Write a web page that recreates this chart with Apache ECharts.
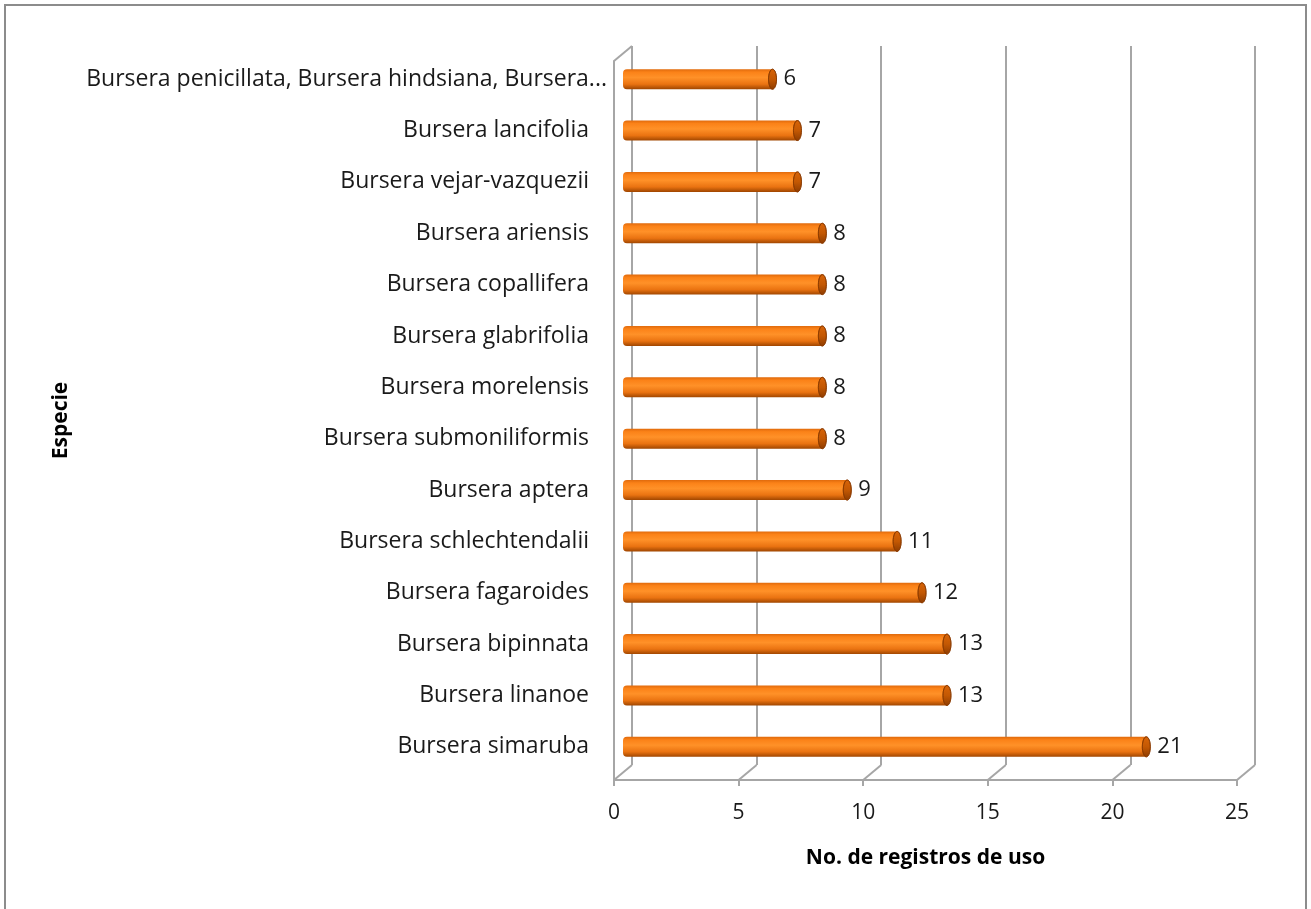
<!DOCTYPE html>
<html>
<head>
<meta charset="utf-8">
<script src="https://cdn.jsdelivr.net/npm/echarts@6/dist/echarts.min.js"></script>
<style>
  html, body { margin: 0; padding: 0; background: #fff; }
  #chart { width: 1311px; height: 909px; }
</style>
</head>
<body>
<div id="chart"></div>
<script>
// Species, listed top to bottom
var species = [
  'Bursera penicillata, Bursera hindsiana, Bursera...',
  'Bursera lancifolia',
  'Bursera vejar-vazquezii',
  'Bursera ariensis',
  'Bursera copallifera',
  'Bursera glabrifolia',
  'Bursera morelensis',
  'Bursera submoniliformis',
  'Bursera aptera',
  'Bursera schlechtendalii',
  'Bursera fagaroides',
  'Bursera bipinnata',
  'Bursera linanoe',
  'Bursera simaruba'
];
// Number of use records per species
var registros = [6, 7, 7, 8, 8, 8, 8, 8, 9, 11, 12, 13, 13, 21];
// Value axis ticks
var xTicks = [0, 5, 10, 15, 20, 25];

var W = 1311, H = 909;
// Front plane of the 3-D box and the depth offset to the back wall
var front = { left: 614, right: 1237, top: 61, bottom: 780 };
var depth = { dx: 18, dy: -15 };
var FONT = '"Open Sans", "Noto Sans", sans-serif';
var GRID_COLOR = '#a6a6a6';
var TEXT = '#1a1a1a';

function gridAt(f) {
  return {
    left: front.left + depth.dx * f,
    right: W - (front.right + depth.dx * f),
    top: front.top + depth.dy * f,
    bottom: H - (front.bottom + depth.dy * f),
    containLabel: false
  };
}

var chart = echarts.init(document.getElementById('chart'), null, { renderer: 'canvas' });

var xBase = { type: 'value', min: xTicks[0], max: xTicks[xTicks.length - 1], interval: 5 };

// Cylinder: shaded body plus an elliptical end cap, value written after it
function renderBar(params, api) {
  var v = api.value(0), idx = api.value(1);
  var p0 = api.coord([0, idx]);
  var p1 = api.coord([v, idx]);
  var h = 20, rx = 4;
  var y0 = p0[1] - h / 2;
  var body = new echarts.graphic.LinearGradient(0, 0, 0, 1, [
    { offset: 0, color: '#e06a0c' },
    { offset: 0.15, color: '#fb8218' },
    { offset: 0.42, color: '#ff9128' },
    { offset: 0.75, color: '#ea7311' },
    { offset: 1, color: '#a04600' }
  ]);
  var cap = new echarts.graphic.LinearGradient(0, 0, 0, 1, [
    { offset: 0, color: '#d86408' },
    { offset: 0.5, color: '#c35803' },
    { offset: 1, color: '#8e3c00' }
  ]);
  return {
    type: 'group',
    children: [
      { type: 'rect', shape: { x: p0[0], y: y0, width: p1[0] - p0[0], height: h, r: [rx, 0, 0, rx] }, style: { fill: body } },
      { type: 'ellipse', shape: { cx: p1[0], cy: p0[1], rx: rx, ry: h / 2 }, style: { fill: cap, stroke: '#8a3a00', lineWidth: 0.8 } },
      { type: 'text', style: { text: String(v), x: p1[0] + rx + 7, y: p0[1], verticalAlign: 'middle', align: 'left', fontSize: 22, fontFamily: FONT, fill: TEXT } }
    ]
  };
}

chart.setOption({
  animation: false,
  backgroundColor: '#fff',
  grid: [gridAt(0), gridAt(1), gridAt(0.5)],
  xAxis: [
    Object.assign({}, xBase, {
      gridIndex: 0,
      axisLine: { show: true, lineStyle: { color: GRID_COLOR, width: 2 } },
      axisTick: { show: true, length: 6, inside: false, lineStyle: { color: GRID_COLOR, width: 2 } },
      axisLabel: { show: true, margin: 23, fontSize: 21, fontFamily: FONT, color: TEXT },
      splitLine: { show: false },
      name: 'No. de registros de uso',
      nameLocation: 'middle',
      nameGap: 68,
      nameTextStyle: { fontSize: 21, fontWeight: 'bold', fontFamily: FONT, color: '#000' }
    }),
    Object.assign({}, xBase, {
      gridIndex: 1,
      axisLine: { show: false }, axisTick: { show: false }, axisLabel: { show: false },
      splitLine: { show: true, lineStyle: { color: GRID_COLOR, width: 2 } }
    }),
    Object.assign({}, xBase, {
      gridIndex: 2,
      show: false
    })
  ],
  yAxis: [
    {
      type: 'category', gridIndex: 0, data: species, inverse: true,
      axisLine: { show: true, lineStyle: { color: GRID_COLOR, width: 2 } },
      axisTick: { show: false }, axisLabel: { show: false }, splitLine: { show: false },
      name: 'Especie', nameLocation: 'middle', nameRotate: 90, nameGap: 542,
      nameTextStyle: { fontSize: 21, fontWeight: 'bold', fontFamily: FONT, color: '#000' }
    },
    {
      type: 'category', gridIndex: 1, data: species, inverse: true,
      axisLine: { show: false }, axisTick: { show: false }, axisLabel: { show: false }, splitLine: { show: false }
    },
    {
      type: 'category', gridIndex: 2, data: species, inverse: true,
      axisLine: { show: false }, axisTick: { show: false },
      axisLabel: {
        show: true, margin: 16, fontSize: 23, fontFamily: FONT, color: TEXT,
        formatter: function (s, i) { return i === 0 ? '{t|' + s + '}' : '{n|' + s + '}'; },
        rich: {
          t: { fontSize: 23, fontFamily: FONT, color: TEXT },
          n: { fontSize: 23, fontFamily: FONT, color: TEXT, padding: [0, 18, 0, 0] }
        }
      },
      splitLine: { show: false }
    }
  ],
  series: [{
    type: 'custom',
    xAxisIndex: 2,
    yAxisIndex: 2,
    renderItem: renderBar,
    encode: { x: 0, y: 1 },
    data: registros.map(function (v, i) { return [v, i]; }),
    z: 5
  }]
});

// Box edges: top of left wall and floor diagonals joining front ticks to back gridlines
var edges = [];
function seg(x1, y1, x2, y2) {
  edges.push({ type: 'line', silent: true, shape: { x1: x1, y1: y1, x2: x2, y2: y2 }, style: { stroke: GRID_COLOR, lineWidth: 2 }, z: 1 });
}
var fTop = front.top, fBot = front.bottom;
var x0f = chart.convertToPixel({ xAxisIndex: 0 }, xTicks[0]);
var x0b = chart.convertToPixel({ xAxisIndex: 1 }, xTicks[0]);
seg(x0f, fTop, x0b, fTop + depth.dy);
seg(x0b, fTop + depth.dy, x0b, fBot + depth.dy);
xTicks.forEach(function (t) {
  var xf = chart.convertToPixel({ xAxisIndex: 0 }, t);
  var xb = chart.convertToPixel({ xAxisIndex: 1 }, t);
  seg(xf, fBot, xb, fBot + depth.dy);
});
// Chart area border
edges.push({ type: 'rect', silent: true, shape: { x: 5, y: 5, width: W - 10, height: H + 20 }, style: { fill: 'none', stroke: '#8c8c8c', lineWidth: 2 }, z: 0 });
chart.setOption({ graphic: edges });
</script>
</body>
</html>
